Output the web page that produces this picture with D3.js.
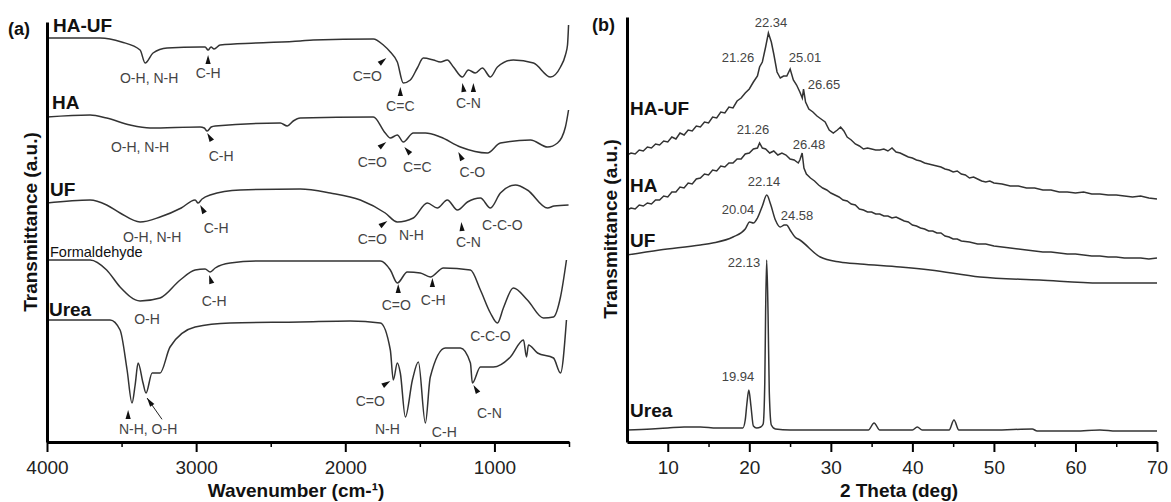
<!DOCTYPE html>
<html>
<head>
<meta charset="utf-8">
<script src="https://cdn.jsdelivr.net/npm/d3@7"></script>
<style>
  body { margin: 0; background: #fff; }
  svg { font-family: "Liberation Sans", Arial, sans-serif; }
  .curve { fill: none; stroke: #333; stroke-width: 1.5; }
  .note { font-size: 14px; fill: #444; text-anchor: middle; }
  .peak { font-size: 13px; fill: #444; text-anchor: middle; }
  .name { font-size: 19px; font-weight: bold; fill: #111; }
  .title { font-size: 19px; font-weight: bold; fill: #111; }
  .axis text { font-size: 19px; fill: #222; font-family: "Liberation Sans", Arial, sans-serif; }
  .axis path, .axis line { stroke: #000; }
</style>
</head>
<body>
<div id="chart"></div>
<script>

// ---- FTIR spectra, panel (a): [wavenumber, transmittance a.u.]
var ftirHAUF = [
  [4000,404],[3644,404],[3500,400],[3376,392],[3342,379],[3289,389],[3195,394],[2973,395],[2940,395],
  [2920,392],[2900,395],[2880,393],[2839,397],[2600,399],[2302,401],[2215,402],[1812,403],[1745,397],
  [1698,390],[1651,380],[1611,359],[1564,362],[1517,374],[1477,384],[1409,382],[1362,380],[1316,382],
  [1275,375],[1215,365],[1175,372],[1128,369],[1081,374],[1027,365],[980,375],[873,382],[738,379],
  [624,365],[557,375],[524,387],[510,397],[503,417]
];
var ftirHA = [
  [4000,325],[3711,327],[3600,324],[3443,317],[3309,314],[2973,315],[2946,314],[2926,311],[2899,315],
  [2872,316],[2436,319],[2389,316],[2349,321],[2302,324],[1812,325],[1732,309],[1698,304],[1651,307],
  [1611,300],[1544,309],[1463,309],[1362,305],[1228,295],[1047,289],[960,299],[758,302],[644,295],
  [577,299],[524,315],[503,332]
];
var ftirUF = [
  [4000,239],[3711,242],[3600,237],[3510,229],[3376,220],[3242,225],[3100,234],[3007,242],[2987,239],
  [2960,243],[2906,247],[2705,252],[2302,253],[2101,249],[1899,242],[1732,229],[1651,220],[1544,224],
  [1450,239],[1383,234],[1316,242],[1248,232],[1181,240],[1094,244],[1027,234],[960,249],[859,257],
  [779,252],[644,234],[600,236],[503,237]
];
var ftirFormaldehyde = [
  [4000,182],[3711,182],[3600,172],[3510,155],[3376,141],[3242,144],[3107,162],[3007,172],[2940,173],
  [2906,170],[2872,174],[2772,179],[2571,181],[1765,181],[1698,172],[1651,159],[1584,170],[1497,169],
  [1430,165],[1342,174],[1161,172],[1094,152],[1027,129],[980,119],[940,134],[873,154],[779,142],
  [671,124],[604,125],[557,145],[517,182]
];
var ftirUrea = [
  [4000,122],[3577,122],[3510,112],[3463,72],[3430,39],[3409,57],[3389,79],[3356,59],[3336,49],
  [3295,69],[3242,69],[3175,95],[3007,115],[2772,119],[2302,120],[1967,121],[1765,119],[1698,92],
  [1678,62],[1651,79],[1631,69],[1597,25],[1550,62],[1510,80],[1463,19],[1430,65],[1329,94],[1228,94],
  [1161,79],[1148,59],[1094,75],[1007,75],[893,85],[805,102],[785,85],[772,97],[711,89],[604,84],
  [557,69],[517,122]
];

// series names: [text, wavenumber, a.u.]
var ftirNames = [["HA-UF",3960,410],["HA",3967,333],["UF",3980,246],["Urea",3987,126]];

// band notes: [text, wavenumber, a.u.]
var ftirNotes = [
  ["O-H, N-H",3315,359],["C-H",2920,364],["C=O",1852,361],["C=C",1631,331],["C-N",1175,334],
  ["O-H, N-H",3376,290],["C-H",2832,281],["C=O",1819,275],["C=C",1517,270],["C-O",1148,265],
  ["O-H, N-H",3295,200],["C-H",2866,209],["C=O",1819,198],["N-H",1557,202],["C-N",1175,195],["C-C-O",947,212],
  ["O-H",3329,118],["C-H",2879,136],["C=O",1658,132],["C-H",1410,137],["C-C-O",1027,101],
  ["N-H, O-H",3322,8],["C=O",1832,36],["N-H",1718,8],["C-H",1336,5],["C-N",1034,24]
];

// arrow tips: [wavenumber, a.u., direction deg, shaft length]
var ftirArrows = [
  [2920,387,-90,0],[1725,384,-39,0],[1631,355,-90,0],[1215,359,-100,0],[1141,359,-90,0],
  [2926,309,-121,0],[1725,300,-38,0],[1604,295,-131,0],[1242,290,-117,0],
  [2973,237,-119,0],[1718,221,-35,0],[1222,220,-95,0],
  [2913,167,-107,0],[1645,158,-90,0],[1416,164,-90,0],
  [3456,32,-90,0],[3329,44,-125,17],[1698,61,-32,0],[1141,57,-121,0]
];

var ftirMajor = [4000, 3000, 2000, 1000];
var ftirMinor = [3500, 2500, 1500, 500];

// ---- XRD patterns, panel (b): [2 theta, intensity a.u.]
var xrdHAUF = [
  [5.0,287],[5.5,289],[6.0,288],[6.5,292],[7.0,291],[7.5,295],[8.0,294],[8.5,298],[9.0,297],[9.5,301],
  [10.0,300],[10.5,305],[11.0,303],[11.5,309],[12.0,307],[12.5,312],[13.0,311],[13.5,316],[14.0,315],
  [14.5,320],[15.0,319],[15.5,325],[16.0,324],[16.5,330],[17.0,329],[17.5,335],[18.0,334],[18.5,341],
  [19.0,344],[19.5,349],[20.0,353],[20.5,360],[21.0,366],[21.26,375],[21.6,380],[22.0,395],[22.34,409],
  [22.7,400],[23.0,388],[23.4,370],[23.8,364],[24.2,366],[24.6,366],[25.01,373],[25.4,362],[25.8,357],
  [26.2,350],[26.5,344],[26.65,353],[26.9,340],[27.3,333],[27.8,330],[28.3,326],[28.8,323],[29.3,320],
  [29.8,312],[30.3,309],[30.8,312],[31.2,315],[31.6,311],[32.0,305],[32.5,302],[33.0,298],[33.5,296],
  [34.0,293],[34.5,294],[35.0,293],[35.5,292],[36.0,292],[36.5,293],[37.0,291],[37.5,294],[38.0,290],
  [38.5,289],[39.0,287],[39.5,285],[40.0,284],[40.5,282],[41.0,281],[41.5,279],[42.0,278],[42.5,277],
  [43.0,276],[43.5,275],[44.0,273],[44.5,272],[45.0,270],[45.5,271],[46.0,268],[46.5,267],[47.0,264],
  [47.5,265],[48.0,263],[48.5,261],[49.0,260],[49.5,261],[50.0,259],[51.0,258],[52.0,256],[53.0,256],
  [54.0,254],[55.0,254],[56.0,252],[57.0,252],[58.0,250],[59.0,250],[60.0,249],[61.0,250],[62.0,248],
  [63.0,248],[64.0,247],[65.0,247],[66.0,246],[67.0,245],[68.0,246],[69.0,244],[70.0,243]
];
var xrdHA = [
  [5.0,232],[5.5,234],[6.0,233],[6.5,237],[7.0,236],[7.5,239],[8.0,238],[8.5,242],[9.0,242],[9.5,246],
  [10.0,245],[10.5,250],[11.0,250],[11.5,255],[12.0,254],[12.5,259],[13.0,258],[13.5,263],[14.0,264],
  [14.5,268],[15.0,267],[15.5,272],[16.0,271],[16.5,276],[17.0,275],[17.5,279],[18.0,279],[18.5,283],
  [19.0,283],[19.5,288],[20.0,289],[20.5,293],[21.0,294],[21.26,299],[21.6,294],[22.0,293],[22.5,289],
  [23.0,291],[23.5,287],[24.0,289],[24.5,287],[25.0,283],[25.5,282],[26.0,279],[26.2,282],[26.48,289],
  [26.7,274],[27.0,268],[27.5,264],[28.0,261],[28.5,257],[29.0,254],[29.5,252],[30.0,249],[30.5,247],
  [31.0,245],[31.5,242],[32.0,241],[32.5,238],[33.0,237],[33.5,233],[34.0,232],[34.5,230],[35.0,230],
  [35.5,228],[36.0,228],[36.5,226],[37.0,226],[37.5,224],[38.0,225],[38.5,223],[39.0,221],[39.5,220],
  [40.0,217],[40.5,216],[41.0,214],[41.5,213],[42.0,211],[42.5,211],[43.0,209],[43.5,209],[44.0,206],
  [44.5,205],[45.0,203],[45.5,203],[46.0,201],[47.0,200],[48.0,198],[49.0,198],[50.0,196],[51.0,195],
  [52.0,194],[53.0,193],[54.0,192],[55.0,191],[56.0,190],[57.0,190],[58.0,189],[59.0,188],[60.0,188],
  [61.0,187],[62.0,186],[63.0,186],[64.0,185],[65.0,185],[66.0,184],[67.0,184],[68.0,184],[69.0,183],
  [70.0,184]
];
var xrdUF = [
  [5.0,187],[9.0,192],[14.0,197],[15.5,199],[18.0,205],[19.5,213],[20.04,220],[20.5,219],[21.0,224],
  [21.6,236],[22.14,247],[22.6,238],[23.2,222],[23.8,215],[24.3,217],[24.58,217],[25.0,212],[25.6,205],
  [26.2,202],[28.7,185],[31.1,180],[33.6,178],[38.5,175],[42.2,172],[48.3,165],[55.6,162],[63.0,159],
  [70.0,159]
];
var xrdUrea = [
  [5.0,12],[8.0,13],[10.0,14],[12.0,15],[14.0,15],[16.0,14],[18.0,14],[19.2,14],[19.5,22],[19.7,38],
  [19.94,52],[20.2,36],[20.5,16],[20.9,14],[21.4,15],[21.7,18],[21.9,60],[22.0,130],[22.13,182],
  [22.3,128],[22.45,50],[22.7,17],[23.2,13],[25.0,12],[30.0,12],[34.6,12],[35.3,19],[36.0,12],
  [40.0,12],[40.6,15],[41.2,12],[44.5,12],[45.1,22],[45.7,12],[50.0,12],[54.7,13],[55.3,11],
  [60.0,11],[63.0,12],[65.0,11],[70.0,11]
];

var xrdNames = [["HA-UF",5.37,327],["HA",5.37,250],["UF",5.37,195],["Urea",5.37,25]];
var xrdPeaks = [
  ["22.34",22.66,415],["21.26",18.61,380],["25.01",26.83,380],["26.65",29.16,353],
  ["21.26",20.45,308],["26.48",27.32,293],
  ["22.14",21.80,256],["20.04",18.61,228],["24.58",25.85,222],
  ["22.13",19.35,175],["19.94",18.61,61]
];

var xrdMajor = [10, 20, 30, 40, 50, 60, 70];
var xrdMinor = [15, 25, 35, 45, 55, 65];

var W = 1171, H = 502;

var svg = d3.select("#chart")
  .append("svg")
  .attr("width", W)
  .attr("height", H);

// ---------------- panel (a)
var xA = d3.scaleLinear().domain([4000, 500]).range([47, 569]);
var yA = d3.scaleLinear().domain([0, 420]).range([442, 22]);

var lineA = d3.line()
  .x(function(d) { return xA(d[0]); })
  .y(function(d) { return yA(d[1]); })
  .curve(d3.curveMonotoneX);

var gA = svg.append("g");

[ftirHAUF, ftirHA, ftirUF, ftirFormaldehyde, ftirUrea].forEach(function(s) {
  gA.append("path").datum(s).attr("class", "curve").attr("d", lineA);
});

drawAxes(gA, xA, yA, ftirMajor, ftirMinor, d3.format("d"));

gA.selectAll(".name")
  .data(ftirNames).enter()
  .append("text")
  .attr("class", "name")
  .attr("x", function(d) { return xA(d[1]); })
  .attr("y", function(d) { return yA(d[2]); })
  .text(function(d) { return d[0]; });

gA.append("text")
  .attr("x", xA(3980)).attr("y", yA(185))
  .style("font-size", "14.5px").style("fill", "#111")
  .text("Formaldehyde");

gA.selectAll(".note")
  .data(ftirNotes).enter()
  .append("text")
  .attr("class", "note")
  .attr("x", function(d) { return xA(d[1]); })
  .attr("y", function(d) { return yA(d[2]); })
  .text(function(d) { return d[0]; });

gA.selectAll(".arrow")
  .data(ftirArrows).enter()
  .append("g")
  .attr("class", "arrow")
  .each(function(d) {
    var tx = xA(d[0]), ty = yA(d[1]);
    var a = d[2] * Math.PI / 180;
    var ux = Math.cos(a), uy = Math.sin(a);
    var bx = tx - ux * 9, by = ty - uy * 9;
    var px = -uy * 2.6, py = ux * 2.6;
    var g = d3.select(this);
    if (d[3] > 0) {
      g.append("line")
        .attr("x1", tx).attr("y1", ty)
        .attr("x2", tx - ux * (9 + d[3])).attr("y2", ty - uy * (9 + d[3]))
        .attr("stroke", "#222").attr("stroke-width", 1);
    }
    g.append("path")
      .attr("d", "M" + tx + "," + ty + "L" + (bx + px) + "," + (by + py) + "L" + (bx - px) + "," + (by - py) + "Z")
      .attr("fill", "#111");
  });

svg.append("text").attr("class", "title")
  .attr("x", 296).attr("y", 497).style("text-anchor", "middle")
  .text("Wavenumber (cm-\u00b9)");

svg.append("text").attr("class", "title")
  .attr("transform", "translate(37,222) rotate(-90)")
  .style("text-anchor", "middle")
  .text("Transmittance (a.u.)");

svg.append("text").attr("class", "title")
  .attr("x", 8).attr("y", 35).style("font-size", "18px")
  .text("(a)");

// ---------------- panel (b)
var xB = d3.scaleLinear().domain([5, 70]).range([627, 1157]);
var yB = d3.scaleLinear().domain([0, 425]).range([442, 17]);

var lineB = d3.line()
  .x(function(d) { return xB(d[0]); })
  .y(function(d) { return yB(d[1]); });

var gB = svg.append("g");

[xrdHAUF, xrdHA].forEach(function(s) {
  gB.append("path").datum(s).attr("class", "curve").attr("d", lineB);
});
[xrdUF, xrdUrea].forEach(function(s) {
  gB.append("path").datum(s).attr("class", "curve").attr("d", lineB.curve(d3.curveMonotoneX));
});

drawAxes(gB, xB, yB, xrdMajor, xrdMinor, d3.format("d"));

gB.selectAll(".name")
  .data(xrdNames).enter()
  .append("text")
  .attr("class", "name")
  .attr("x", function(d) { return xB(d[1]); })
  .attr("y", function(d) { return yB(d[2]); })
  .text(function(d) { return d[0]; });

gB.selectAll(".peak")
  .data(xrdPeaks).enter()
  .append("text")
  .attr("class", "peak")
  .attr("x", function(d) { return xB(d[1]); })
  .attr("y", function(d) { return yB(d[2]); })
  .text(function(d) { return d[0]; });

svg.append("text").attr("class", "title")
  .attr("x", 899).attr("y", 497).style("text-anchor", "middle")
  .text("2 Theta (deg)");

svg.append("text").attr("class", "title")
  .attr("transform", "translate(617,229) rotate(-90)")
  .style("text-anchor", "middle")
  .text("Transmittance (a.u.)");

svg.append("text").attr("class", "title")
  .attr("x", 592).attr("y", 31).style("font-size", "18px")
  .text("(b)");


function drawAxes(g, x, y, major, minor, fmt) {
  var y0 = y.range()[0];

  g.append("g")
    .attr("class", "axis")
    .attr("transform", "translate(0," + y0 + ")")
    .call(d3.axisBottom(x).tickValues(minor).tickSize(5).tickFormat("").tickSizeOuter(0))
    .call(function(a) { a.select(".domain").remove(); a.selectAll("line").attr("stroke-width", 1.5); });

  g.append("g")
    .attr("class", "axis")
    .attr("transform", "translate(0," + y0 + ")")
    .call(d3.axisBottom(x).tickValues(major).tickSize(10).tickPadding(9).tickFormat(fmt).tickSizeOuter(0))
    .call(function(a) {
      a.select(".domain").attr("stroke-width", 3);
      a.selectAll("line").attr("stroke-width", 2);
    });

  g.append("g")
    .attr("class", "axis")
    .attr("transform", "translate(" + x.range()[0] + ",0)")
    .call(d3.axisLeft(y).tickValues([]).tickSizeOuter(0))
    .call(function(a) { a.select(".domain").attr("stroke-width", 3); });
}

</script>
</body>
</html>
